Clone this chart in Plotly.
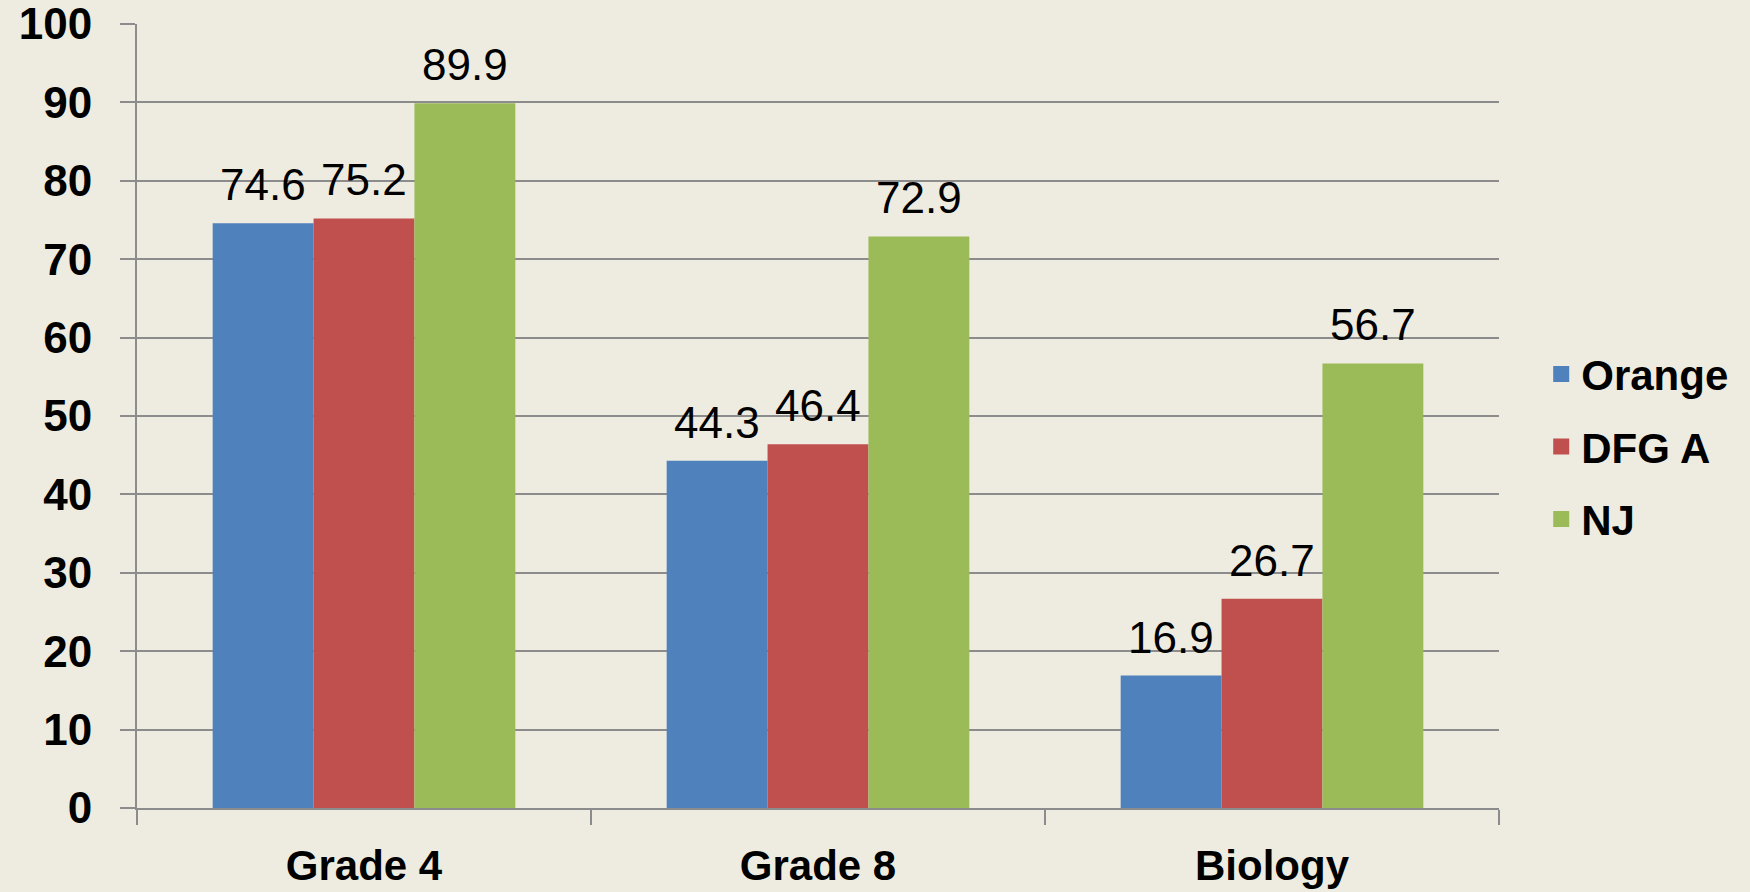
import plotly.graph_objects as go

categories = ["Grade 4", "Grade 8", "Biology"]
series_names = ["Orange", "DFG A", "NJ"]
orange = [74.6, 44.3, 16.9]
dfg_a = [75.2, 46.4, 26.7]
nj = [89.9, 72.9, 56.7]
y_ticks = [0, 10, 20, 30, 40, 50, 60, 70, 80, 90, 100]

series_values = [orange, dfg_a, nj]
colors = ["#4F81BD", "#C0504D", "#9BBB59"]
bg = "#EEECE1"
grid = "#8C8C8C"
BARGAP = 1 / 3
n_series = len(series_values)
bar_w = (1 - BARGAP) / n_series

fig = go.Figure()
for name, vals, col in zip(series_names, series_values, colors):
    fig.add_trace(go.Bar(x=categories, y=vals, name=name, marker=dict(color=col, line=dict(width=0)),
                         showlegend=False))
for j, (name, col) in enumerate(zip(series_names, colors)):
    fig.add_trace(go.Scatter(x=[None], y=[None], mode="markers", name=name, legendgroup=name,
                             marker=dict(symbol="square", size=25, color=col)))

annotations = []
for j, vals in enumerate(series_values):
    for i, v in enumerate(vals):
        annotations.append(dict(x=i + (j - (n_series - 1) / 2) * bar_w, y=v, xref="x", yref="y",
                                text=f"{v:.1f}", showarrow=False, yanchor="bottom", yshift=12,
                                font=dict(family="Liberation Sans", size=44, color="black")))

fig.update_layout(
    width=1750, height=892,
    paper_bgcolor=bg, plot_bgcolor=bg,
    margin=dict(l=137, r=251, t=24, b=84, autoexpand=False),
    barmode="group", bargap=BARGAP, bargroupgap=0,
    annotations=annotations,
    legend=dict(x=1.031, xanchor="left", y=0.461, yanchor="middle", tracegroupgap=15,
                font=dict(family="Liberation Sans", size=42, color="black", weight="bold"),
                bgcolor="rgba(0,0,0,0)"),
    xaxis=dict(type="category", showline=True, linecolor=grid, linewidth=2, ticks="outside",
               tickson="boundaries", ticklen=15, tickcolor=grid, tickwidth=2, showgrid=False,
               tickfont=dict(family="Liberation Sans", size=42, color="black", weight="bold"),
               ticklabelstandoff=20, ticklabeloverflow="allow"),
    yaxis=dict(range=[0, 100], tickvals=y_ticks, showline=True, linecolor=grid, linewidth=2,
               ticks="outside", ticklen=15, tickcolor=grid, tickwidth=2,
               showgrid=True, gridcolor=grid, gridwidth=2, zeroline=False,
               tickfont=dict(family="Liberation Sans", size=44, color="black", weight="bold"),
               ticklabelstandoff=19, ticklabeloverflow="allow"),
)

fig.write_html("out.html", config={"displayModeBar": False},
               post_script="document.body.style.margin='0px';document.body.style.background='%s';" % bg)
